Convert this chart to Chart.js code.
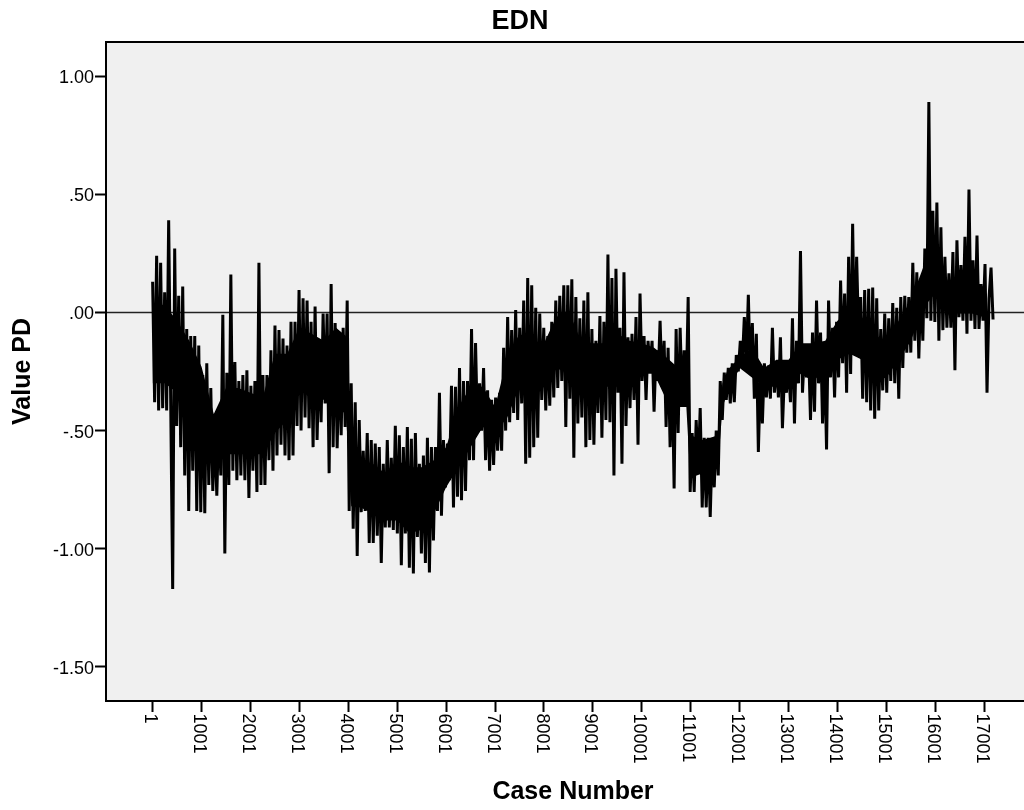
<!DOCTYPE html>
<html>
<head>
<meta charset="utf-8">
<title>EDN</title>
<script src="https://cdn.jsdelivr.net/npm/chart.js@4.4.1/dist/chart.umd.min.js"></script>
<style>
  html, body { margin: 0; padding: 0; background: #ffffff; overflow: hidden; }
  #wrap { width: 1040px; height: 810px; }
</style>
</head>
<body>
<div id="wrap"><canvas id="chart" width="1040" height="810"></canvas></div>
<script>
// ---- labels ----
const chartTitle = 'EDN';
const xAxisTitle = 'Case Number';
const yAxisTitle = 'Value PD';

// ---- case axis: series is plotted every 41st case, starting at case 1 ----
const firstCase = 1;
const caseStep = 41;
const xTickValues = [1, 1001, 2001, 3001, 4001, 5001, 6001, 7001, 8001, 9001,
                     10001, 11001, 12001, 13001, 14001, 15001, 16001, 17001];
const yTickValues = [-1.5, -1.0, -0.5, 0.0, 0.5, 1.0];
const referenceValue = 0;

// ---- PD values ----
const pdValues = [
  0.13, -0.38, 0.24, -0.415, 0.21, -0.405, 0.085, -0.415, 0.39, -0.37,
  -1.17, 0.27, -0.48, 0.07, -0.57, 0.11, -0.69, -0.07, -0.84, -0.10,
  -0.67, -0.10, -0.84, -0.14, -0.845, -0.265, -0.85, -0.215, -0.73, -0.32,
  -0.755, -0.49, -0.775, -0.455, -0.69, -0.01, -1.02, -0.255, -0.73, 0.16,
  -0.67, -0.21, -0.71, -0.29, -0.69, -0.265, -0.71, -0.245, -0.785, -0.31,
  -0.67, -0.29, -0.76, 0.21, -0.73, -0.265, -0.73, -0.265, -0.625, -0.16,
  -0.67, -0.055, -0.605, -0.075, -0.56, -0.11, -0.605, -0.14, -0.625, -0.04,
  -0.605, -0.04, -0.48, 0.095, -0.50, 0.06, -0.445, 0.05, -0.49, -0.04,
  -0.57, 0.025, -0.54, -0.16, -0.465, -0.005, -0.385, -0.005, -0.68, 0.12,
  -0.57, -0.045, -0.575, -0.18, -0.52, -0.065, -0.485, 0.05, -0.84, -0.30,
  -0.915, -0.38, -1.03, -0.455, -0.845, -0.585, -0.84, -0.51, -0.975, -0.54,
  -0.975, -0.555, -0.945, -0.57, -1.06, -0.64, -0.91, -0.54, -0.91, -0.615,
  -0.92, -0.48, -0.935, -0.52, -1.07, -0.57, -0.935, -0.485, -1.08, -0.535,
  -1.105, -0.51, -0.95, -0.64, -1.02, -0.605, -1.06, -0.53, -1.10, -0.57,
  -0.965, -0.57, -0.84, -0.34, -0.86, -0.54, -0.74, -0.555, -0.71, -0.31,
  -0.825, -0.315, -0.78, -0.235, -0.795, -0.29, -0.755, -0.29, -0.625, -0.07,
  -0.625, -0.13, -0.51, -0.30, -0.50, -0.235, -0.625, -0.33, -0.67, -0.37,
  -0.645, -0.36, -0.585, -0.34, -0.585, -0.15, -0.50, -0.02, -0.465, -0.075,
  -0.425, 0.01, -0.455, -0.065, -0.385, 0.05, -0.64, 0.145, -0.615, 0.115,
  -0.57, 0.02, -0.53, -0.005, -0.37, -0.065, -0.415, -0.10, -0.395, -0.04,
  -0.36, 0.05, -0.32, 0.07, -0.29, 0.115, -0.485, 0.115, -0.365, 0.14,
  -0.615, 0.065, -0.47, -0.025, -0.445, 0.05, -0.57, 0.085, -0.54, -0.07,
  -0.56, -0.12, -0.425, -0.015, -0.53, -0.04, -0.455, 0.245, -0.465, 0.145,
  -0.69, 0.185, -0.34, -0.065, -0.64, 0.17, -0.48, -0.105, -0.405, -0.09,
  -0.37, -0.02, -0.56, 0.08, -0.29, -0.10, -0.37, -0.12, -0.245, -0.12,
  -0.42, -0.16, -0.29, -0.035, -0.315, -0.12, -0.485, -0.15, -0.57, -0.235,
  -0.745, -0.07, -0.51, -0.065, -0.37, -0.16, -0.36, 0.065, -0.76, -0.51,
  -0.76, -0.455, -0.67, -0.405, -0.825, -0.53, -0.825, -0.53, -0.865, -0.555,
  -0.74, -0.50, -0.69, -0.29, -0.455, -0.255, -0.37, -0.235, -0.385, -0.215,
  -0.38, -0.18, -0.25, -0.12, -0.215, -0.02, -0.215, 0.075, -0.26, -0.045,
  -0.365, -0.09, -0.59, -0.275, -0.47, -0.215, -0.36, -0.225, -0.365, -0.065,
  -0.34, -0.215, -0.36, -0.105, -0.49, -0.26, -0.34, -0.215, -0.38, -0.025,
  -0.47, -0.12, -0.30, 0.26, -0.34, -0.16, -0.275, -0.15, -0.455, -0.085,
  -0.42, 0.05, -0.30, -0.085, -0.47, -0.175, -0.58, 0.05, -0.275, -0.065,
  -0.36, -0.04, -0.275, 0.135, -0.215, 0.08, -0.34, 0.235, -0.26, 0.375,
  -0.175, 0.235, -0.105, 0.065, -0.365, 0.095, -0.38, 0.10, -0.415, 0.105,
  -0.45, 0.06, -0.415, -0.07, -0.33, -0.005, -0.34, -0.025, -0.29, 0.04,
  -0.30, 0.02, -0.365, 0.065, -0.235, 0.07, -0.17, 0.065, -0.17, 0.21,
  -0.12, 0.17, -0.195, 0.12, -0.12, 0.27, -0.025, 0.89, -0.035, 0.43,
  -0.04, 0.465, -0.12, 0.36, -0.075, 0.235, -0.065, 0.165, -0.065, 0.255,
  -0.245, 0.305, -0.02, 0.20, -0.035, 0.32, -0.09, 0.52, -0.035, 0.22,
  -0.07, 0.325, -0.07, 0.12, -0.035, 0.205, -0.34, 0.06, 0.19, -0.03
];

// ---- dense core of the series (where the trace overlaps solidly) ----
const coreCases = [
  1, 251, 501, 751, 1001, 1251, 1501, 1751, 2001, 2251,
  2501, 2751, 3001, 3251, 3501, 3751, 3951, 4061, 4251, 4501,
  4751, 5001, 5251, 5501, 5751, 6001, 6251, 6501, 6751, 7001,
  7251, 7501, 7751, 8001, 8251, 8501, 8751, 9001, 9251, 9501,
  9751, 10001, 10251, 10501, 10751, 10911, 10991, 11251, 11561, 11651,
  11751, 12001, 12251, 12501, 12751, 13001, 13251, 13501, 13751, 14001,
  14251, 14501, 14751, 15001, 15251, 15501, 15751, 16001, 16251, 16501,
  16751, 17001
];
const coreHigh = [
  0.04, 0.03, -0.035, -0.12, -0.23, -0.43, -0.32, -0.32, -0.34, -0.36,
  -0.175, -0.175, -0.065, -0.09, -0.12, -0.065, -0.10, -0.58, -0.625, -0.64,
  -0.68, -0.625, -0.655, -0.655, -0.625, -0.57, -0.40, -0.315, -0.315, -0.40,
  -0.19, -0.09, -0.12, -0.13, -0.02, 0.01, -0.12, -0.13, -0.13, -0.09,
  -0.12, -0.13, -0.15, -0.19, -0.235, -0.22, -0.52, -0.54, -0.52, -0.30,
  -0.245, -0.19, -0.15, -0.235, -0.20, -0.20, -0.13, -0.13, -0.12, -0.035,
  0.01, -0.02, -0.09, -0.13, -0.035, 0.05, 0.19, 0.275, 0.135, 0.135,
  0.135, 0.105
];
const coreLow = [
  -0.30, -0.30, -0.34, -0.43, -0.51, -0.61, -0.60, -0.60, -0.60, -0.60,
  -0.51, -0.455, -0.32, -0.37, -0.37, -0.43, -0.42, -0.82, -0.825, -0.85,
  -0.88, -0.88, -0.935, -0.92, -0.85, -0.74, -0.655, -0.57, -0.485, -0.51,
  -0.445, -0.315, -0.37, -0.315, -0.235, -0.26, -0.34, -0.315, -0.315, -0.315,
  -0.29, -0.26, -0.26, -0.37, -0.40, -0.40, -0.70, -0.68, -0.64, -0.40,
  -0.34, -0.235, -0.275, -0.315, -0.315, -0.315, -0.26, -0.29, -0.245, -0.20,
  -0.175, -0.20, -0.29, -0.275, -0.20, -0.12, 0.02, 0.08, 0.02, -0.005,
  -0.005, -0.02
];

// ---- axis ranges ----
const xMin = -952, xMax = 18140;
const yMin = -1.644, yMax = 1.144;

const FONT = '"Liberation Sans", Arial, Helvetica, sans-serif';

const seriesPoints = pdValues.map((v, i) => ({ x: firstCase + i * caseStep, y: v }));
const coreHighPoints = coreHigh.map((v, i) => ({ x: coreCases[i], y: v }));
const coreLowPoints = coreLow.map((v, i) => ({ x: coreCases[i], y: v }));
const referencePoints = [{ x: xMin, y: referenceValue }, { x: xMax, y: referenceValue }];

// SPSS-style decimals: 0.50 -> .50, -0.50 -> -.50
function spssNumber(v) {
  const s = Math.abs(v).toFixed(2).replace(/^0\./, '.');
  return (v < 0 ? '-' : '') + s;
}

// grey plot background
const plotBackground = {
  id: 'plotBackground',
  beforeDraw(chart) {
    const { ctx, chartArea: a } = chart;
    ctx.save();
    ctx.fillStyle = '#f0f0f0';
    ctx.fillRect(a.left, a.top, a.right - a.left, a.bottom - a.top);
    ctx.restore();
  }
};

// frame around the plot + vertical case-number labels reading downwards
const frameAndCaseLabels = {
  id: 'frameAndCaseLabels',
  afterDraw(chart) {
    const { ctx, chartArea: a } = chart;
    ctx.save();
    ctx.strokeStyle = '#000';
    ctx.lineWidth = 2;
    ctx.strokeRect(a.left, a.top, a.right - a.left, a.bottom - a.top);

    const xs = chart.scales.x;
    ctx.font = '18px ' + FONT;
    ctx.fillStyle = '#000';
    ctx.textAlign = 'left';
    ctx.textBaseline = 'middle';
    xs.ticks.forEach(t => {
      const px = xs.getPixelForValue(t.value);
      ctx.save();
      ctx.translate(px - 2.5, xs.top + 12.5);
      ctx.rotate(Math.PI / 2);
      ctx.fillText(String(t.value), 0, 0);
      ctx.restore();
    });
    ctx.restore();
  }
};

new Chart(document.getElementById('chart'), {
  type: 'line',
  data: {
    datasets: [
      {
        label: 'PD',
        data: seriesPoints,
        borderColor: '#000',
        borderWidth: 3,
        borderJoinStyle: 'bevel',
        borderCapStyle: 'butt',
        pointRadius: 0,
        tension: 0,
        fill: false
      },
      {
        label: 'PD core high',
        data: coreHighPoints,
        borderWidth: 0,
        borderColor: 'rgba(0,0,0,0)',
        backgroundColor: '#000',
        pointRadius: 0,
        tension: 0,
        fill: '+1'
      },
      {
        label: 'PD core low',
        data: coreLowPoints,
        borderWidth: 0,
        borderColor: 'rgba(0,0,0,0)',
        pointRadius: 0,
        tension: 0,
        fill: false
      },
      {
        label: 'reference',
        data: referencePoints,
        borderColor: '#222',
        borderWidth: 1.5,
        pointRadius: 0,
        fill: false
      }
    ]
  },
  options: {
    responsive: false,
    animation: false,
    devicePixelRatio: 1,
    layout: { padding: 0 },
    plugins: {
      legend: { display: false },
      tooltip: { enabled: false },
      title: {
        display: true,
        text: chartTitle,
        color: '#000',
        font: { family: FONT, size: 27, weight: 'bold', lineHeight: 1.2 },
        padding: { top: 5.3, bottom: 4.3 }
      }
    },
    scales: {
      x: {
        type: 'linear',
        min: xMin,
        max: xMax,
        afterBuildTicks(scale) { scale.ticks = xTickValues.map(v => ({ value: v })); },
        afterFit(scale) { scale.height = 109; },
        ticks: { display: false },
        grid: {
          display: true,
          drawOnChartArea: false,
          drawTicks: true,
          tickLength: 11,
          tickWidth: 2,
          tickColor: '#000'
        },
        border: { display: false },
        title: {
          display: true,
          text: xAxisTitle,
          color: '#000',
          font: { family: FONT, size: 25, weight: 'bold', lineHeight: 1.2 },
          padding: { top: 0, bottom: 2.7 }
        }
      },
      y: {
        type: 'linear',
        min: yMin,
        max: yMax,
        afterBuildTicks(scale) { scale.ticks = yTickValues.map(v => ({ value: v })); },
        afterFit(scale) { scale.width = 106; },
        ticks: {
          color: '#000',
          font: { family: FONT, size: 18 },
          padding: 1,
          labelOffset: 2,
          callback: v => spssNumber(v)
        },
        grid: {
          display: true,
          drawOnChartArea: false,
          drawTicks: true,
          tickLength: 11,
          tickWidth: 2,
          tickColor: '#000'
        },
        border: { display: false },
        title: {
          display: true,
          text: yAxisTitle,
          color: '#000',
          font: { family: FONT, size: 25, weight: 'bold', lineHeight: 1.2 },
          padding: { top: 8, bottom: 0 }
        }
      }
    }
  },
  plugins: [plotBackground, frameAndCaseLabels]
});
</script>
</body>
</html>
